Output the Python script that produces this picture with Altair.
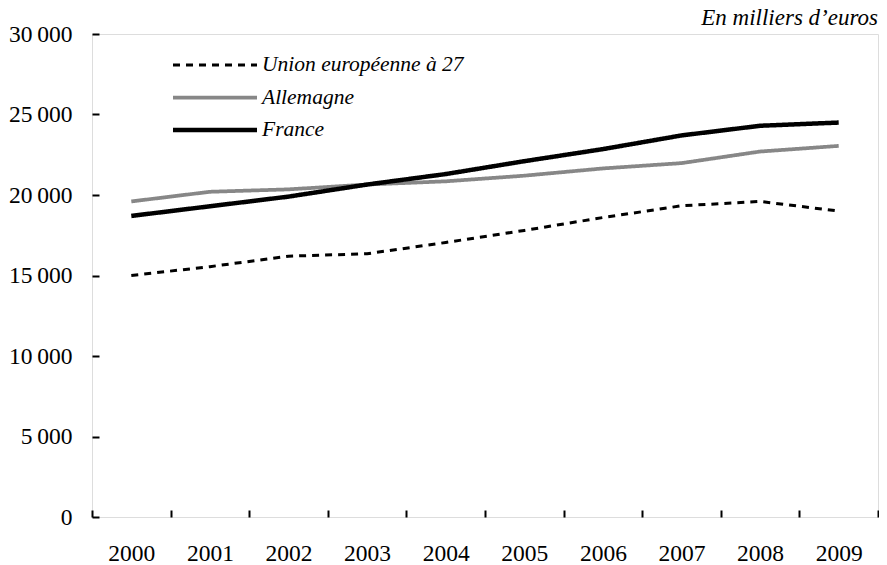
import altair as alt
import pandas as pd

annees = ["2000", "2001", "2002", "2003", "2004", "2005", "2006", "2007", "2008", "2009"]
series = ["Union européenne à 27", "Allemagne", "France"]
rang_legende = [0, 1, 2]
ue27 = [15000, 15550, 16200, 16350, 17050, 17800, 18600, 19330, 19600, 19000]
allemagne = [19600, 20200, 20350, 20650, 20850, 21200, 21650, 21980, 22700, 23050]
france = [18700, 19300, 19900, 20650, 21300, 22100, 22850, 23700, 24300, 24500]
y_ticks = [0, 5000, 10000, 15000, 20000, 25000, 30000]
unite = "En milliers d’euros"

rows = []
for nom, vals in zip(series, [ue27, allemagne, france]):
    for a, v in zip(annees, vals):
        rows.append({"annee": a, "valeur": v, "serie": nom})
df = pd.DataFrame(rows)
legend_df = pd.DataFrame({"serie": series, "rang": rang_legende})
title_df = pd.DataFrame({"texte": [unite]})

FONT = "Liberation Serif"
TICK_FS = 23.5
color_scale = alt.Scale(domain=series, range=["#000000", "#878787", "#000000"])
dash_scale = alt.Scale(domain=series, range=[[7, 6], [1, 0], [1, 0]])
width_scale = alt.Scale(domain=series, range=[3, 4.5, 4.5])

lines = alt.Chart(df).mark_line(strokeCap="butt", strokeJoin="round").encode(
    x=alt.X("annee:O", title=None, sort=annees,
            scale=alt.Scale(type="band", paddingInner=0, paddingOuter=0),
            axis=alt.Axis(domain=False, offset=-7, tickSize=7, tickWidth=2, tickColor="black",
                          tickBand="extent", labelPadding=24, labelAngle=0,
                          labelFont=FONT, labelFontSize=TICK_FS, labelColor="black")),
    y=alt.Y("valeur:Q", title=None,
            scale=alt.Scale(domain=[0, 30000], nice=False),
            axis=alt.Axis(values=y_ticks, domain=False, grid=False, offset=-7, tickSize=7,
                          tickWidth=2, tickColor="black", labelPadding=20,
                          labelFont=FONT, labelFontSize=TICK_FS, labelColor="black",
                          labelExpr="replace(format(datum.value, ','), /,/g, '\u2009')")),
    color=alt.Color("serie:N", scale=color_scale, legend=None),
    strokeDash=alt.StrokeDash("serie:N", scale=dash_scale, legend=None),
    strokeWidth=alt.StrokeWidth("serie:N", scale=width_scale, legend=None),
)

leg_y = alt.Y("rang:Q", scale=alt.Scale(domain=[0, 2], range=[31, 96], nice=False, zero=False), axis=None)

leg_rules = alt.Chart(legend_df).mark_rule(strokeCap="butt").encode(
    x=alt.value(81), x2=alt.value(165),
    y=leg_y,
    color=alt.Color("serie:N", scale=color_scale, legend=None),
    strokeDash=alt.StrokeDash("serie:N", scale=dash_scale, legend=None),
    strokeWidth=alt.StrokeWidth("serie:N", scale=width_scale, legend=None),
)

leg_text = alt.Chart(legend_df).mark_text(
    align="left", baseline="middle", font=FONT, fontSize=21.5, fontStyle="italic", color="black"
).encode(
    x=alt.value(170),
    y=leg_y,
    text="serie:N",
)

titre = alt.Chart(title_df).mark_text(
    align="right", baseline="alphabetic", font=FONT, fontSize=23, fontStyle="italic", color="black"
).encode(
    x=alt.value(786),
    y=alt.value(-9),
    text="texte:N",
)

chart = alt.layer(lines, leg_rules, leg_text, titre).resolve_scale(y="independent").properties(
    width=786, height=483,
    autosize=alt.AutoSizeParams(type="none"),
    padding={"left": 84, "top": 26, "right": 1, "bottom": 48},
).configure_view(stroke="black", strokeWidth=2).configure(background="white")

chart.save("out.html", embed_options={"renderer": "svg", "actions": False})
